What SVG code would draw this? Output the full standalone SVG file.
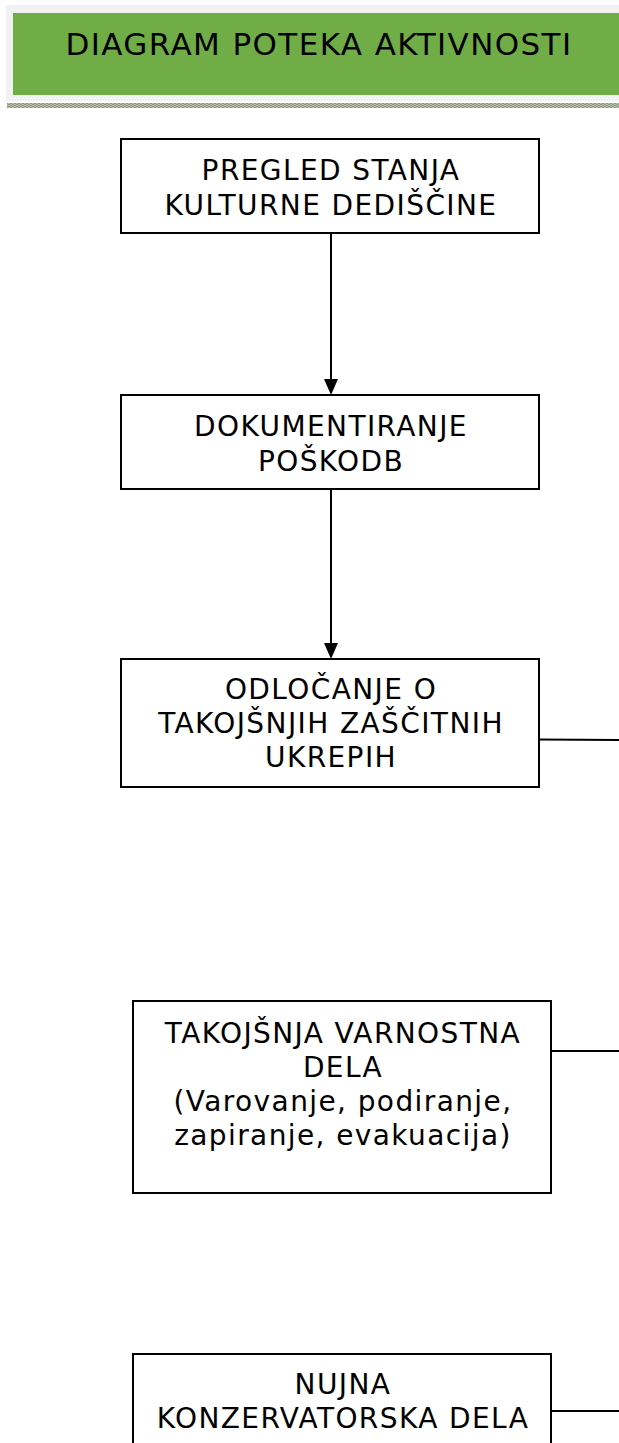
<svg xmlns="http://www.w3.org/2000/svg" width="619" height="1443" viewBox="0 0 619 1443">
<defs>
<style>
.box{fill:#fff;stroke:#000;stroke-width:2}
.t{font-family:"DejaVu Sans","Verdana",sans-serif;font-size:28px;letter-spacing:1.4px;fill:#000;text-anchor:middle}
.c{stroke:#000;stroke-width:2;fill:none}
</style>
<pattern id="stripe" width="4" height="2" patternUnits="userSpaceOnUse">
<rect width="4" height="2" fill="#b7bfa8"/>
<rect width="2" height="1" fill="#8f9a82"/>
<rect x="2" y="1" width="2" height="1" fill="#8f9a82"/>
</pattern>
</defs>
<rect width="619" height="1443" fill="#fff"/>
<g id="header">
<rect x="6" y="5" width="613" height="96" fill="#f2f2f2"/>
<rect x="13" y="13" width="606" height="82" fill="#70ad47"/>
<rect x="7" y="103" width="612" height="5" fill="url(#stripe)"/>
<text x="319" y="55" class="t" style="font-size:31px;letter-spacing:1.4px">DIAGRAM POTEKA AKTIVNOSTI</text>
</g>
<g id="connectors">
<line class="c" x1="331" y1="233" x2="331" y2="379"/>
<path d="M324,379 L338,379 L331,395 Z" fill="#000"/>
<line class="c" x1="331" y1="489" x2="331" y2="643"/>
<path d="M324,643 L338,643 L331,659 Z" fill="#000"/>
<line class="c" x1="539" y1="739.5" x2="619" y2="740"/>
<line class="c" x1="551" y1="1051" x2="619" y2="1051"/>
<line class="c" x1="551" y1="1411" x2="619" y2="1411"/>
</g>
<g id="node1">
<rect class="box" x="121" y="139" width="418" height="94"/>
<text class="t" x="331" y="180">PREGLED STANJA</text>
<text class="t" x="331" y="215">KULTURNE DEDIŠČINE</text>
</g>
<g id="node2">
<rect class="box" x="121" y="395" width="418" height="94"/>
<text class="t" x="331" y="436">DOKUMENTIRANJE</text>
<text class="t" x="331" y="471">POŠKODB</text>
</g>
<g id="node3">
<rect class="box" x="121" y="659" width="418" height="128"/>
<text class="t" x="331" y="699">ODLOČANJE O</text>
<text class="t" x="331" y="733">TAKOJŠNJIH ZAŠČITNIH</text>
<text class="t" x="331" y="767">UKREPIH</text>
</g>
<g id="node4">
<rect class="box" x="133" y="1001" width="418" height="192"/>
<text class="t" x="343" y="1043">TAKOJŠNJA VARNOSTNA</text>
<text class="t" x="343" y="1077">DELA</text>
<text class="t" x="343" y="1111">(Varovanje, podiranje,</text>
<text class="t" x="343" y="1145">zapiranje, evakuacija)</text>
</g>
<g id="node5">
<rect class="box" x="133" y="1354" width="418" height="120"/>
<text class="t" x="343" y="1394">NUJNA</text>
<text class="t" x="343" y="1428">KONZERVATORSKA DELA</text>
</g>
</svg>
